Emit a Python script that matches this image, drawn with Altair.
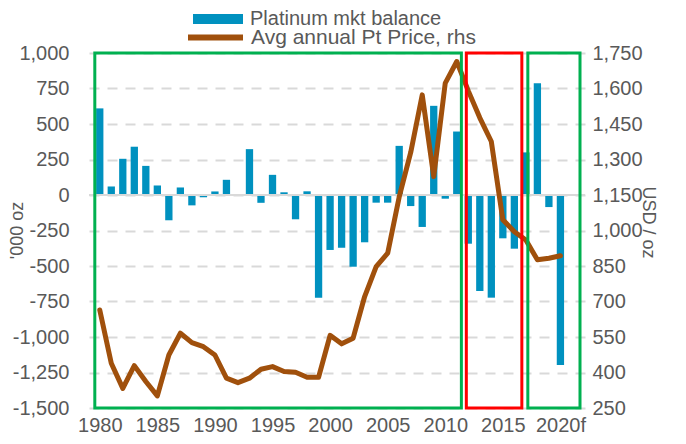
import altair as alt
import pandas as pd

FONT = "Liberation Sans"
GREY = "#595959"
BLUE = "#0091BF"
BROWN = "#A0500C"

years = list(range(1980, 2021))
balance = [610, 60, 255, 340, 205, 67, -178, 53, -73, -16,
           25, 107, 0, 323, -55, 142, 19, -171, 26, -723,
           -387, -371, -505, -333, -54, -54, 346, -78, -225, 628,
           -26, 447, -343, -676, -723, -305, -378, 300, 787, -85,
           -1197]
price = [664, 439, 333, 429, 362, 301, 474, 566, 526, 509,
         474, 376, 357, 376, 414, 425, 404, 401, 380, 380,
         557, 521, 545, 721, 847, 904, 1142, 1330, 1573, 1228,
         1623, 1714, 1590, 1476, 1376, 1045, 995, 960, 876, 883,
         893]

tick_years = [1980, 1985, 1990, 1995, 2000, 2005, 2010, 2015, 2020]
left_ticks = list(range(-1500, 1001, 250))
right_ticks = list(range(250, 1751, 150))

box_start = [1979.57, 2011.83, 2017.17]
box_end = [2011.4, 2016.65, 2021.7]
box_color = ["#00B050", "#FF0000", "#00B050"]

BAR_NAME = "Platinum mkt balance"
LINE_NAME = "Avg annual Pt Price, rhs"

df = pd.DataFrame({"year": years, "balance": balance, "price": price,
                   "s1": BAR_NAME, "s2": LINE_NAME})
boxes_df = pd.DataFrame({"start": box_start, "end": box_end, "c": box_color})

xscale = alt.Scale(domain=[1979.5, 2021.7], nice=False, zero=False)
xaxis = alt.Axis(values=tick_years, title=None, grid=False, domain=False, ticks=False,
                 tickSize=0, labelFontSize=20, labelFont=FONT, labelColor=GREY,
                 labelBaseline="alphabetic", labelPadding=23, labelFlush=False,
                 labelOverlap=False,
                 labelExpr="datum.value == 2020 ? '2020f' : format(datum.value, 'd')")

lscale = alt.Scale(domain=[-1500, 1000], nice=False, zero=False)
rscale = alt.Scale(domain=[250, 1750], nice=False, zero=False)

laxis = alt.Axis(
    values=left_ticks, title="'000 oz", orient="left", tickCount=11,
    labelExpr="replace(format(datum.value, ','), '\u2212', '-')",
    labelFontSize=20, labelFont=FONT, labelColor=GREY, labelPadding=20,
    labelOverlap=False,
    domain=False, ticks=False, tickSize=0,
    grid=True, gridDash=[10, 8], gridColor="#D9D9D9", gridWidth=2,
    titleX=-72, titleY=177, titleAngle=270, titleAlign="center",
    titleBaseline="middle", titleFontSize=18, titleFont=FONT,
    titleFontWeight="normal", titleColor=GREY)

bars = alt.Chart(df).mark_bar(width=7.3).encode(
    x=alt.X("year:Q", scale=xscale, axis=xaxis),
    y=alt.Y("balance:Q", scale=lscale, axis=laxis),
    color=alt.Color("s1:N", scale=alt.Scale(domain=[BAR_NAME], range=[BLUE]),
                    legend=alt.Legend(orient="none", legendX=104, legendY=-59, title=None,
                                      symbolType="M-1,-0.2H1V0.2H-1Z", symbolSize=2500,
                                      symbolStrokeWidth=0, labelFontSize=20, labelFont=FONT,
                                      labelColor=GREY, labelOffset=7, labelLimit=0)),
)

zero = alt.Chart(df).mark_rule(color="#D9D9D9", strokeWidth=2).encode(
    y=alt.Y(datum=0, scale=lscale, axis=laxis)
)

left_layer = alt.layer(bars, zero)

line = alt.Chart(df).mark_line(strokeWidth=5, strokeJoin="round", strokeCap="round").encode(
    x=alt.X("year:Q", scale=xscale, axis=xaxis),
    y=alt.Y("price:Q", scale=rscale, axis=alt.Axis(
        values=right_ticks, title="USD / oz", orient="right",
        labelExpr="format(datum.value, ',')",
        labelFontSize=20, labelFont=FONT, labelColor=GREY, labelPadding=7,
        labelOverlap=False,
        domain=False, ticks=False, tickSize=0, grid=False,
        titleX=62, titleY=169, titleAngle=90, titleAlign="center",
        titleBaseline="middle", titleFontSize=18, titleFont=FONT,
        titleFontWeight="normal", titleColor=GREY)),
    stroke=alt.Stroke("s2:N", scale=alt.Scale(domain=[LINE_NAME], range=[BROWN]),
                      legend=alt.Legend(orient="none", legendX=96, legendY=-46, title=None,
                                        symbolType="M-1,0H1", symbolSize=3025,
                                        symbolStrokeWidth=6, labelFontSize=21, labelFont=FONT,
                                        labelColor=GREY, labelOffset=5, labelLimit=0)),
)

boxes = alt.Chart(boxes_df).mark_rect(fillOpacity=0, strokeWidth=3).encode(
    x=alt.X("start:Q", scale=xscale, axis=xaxis),
    x2="end:Q",
    y=alt.Y(datum=1000, scale=lscale, axis=None),
    y2=alt.Y2(datum=-1500),
    stroke=alt.Stroke("c:N", scale=None),
)

chart = alt.layer(left_layer, line, boxes).resolve_scale(
    y="independent", color="independent", stroke="independent"
).properties(
    width=496, height=355,
    autosize=alt.AutoSizeParams(type="none"),
    padding={"left": 81, "top": 45, "right": 93, "bottom": 28},
    background="white",
).configure_view(stroke=None)

chart.save("out.html", embed_options={"renderer": "svg", "actions": False})
